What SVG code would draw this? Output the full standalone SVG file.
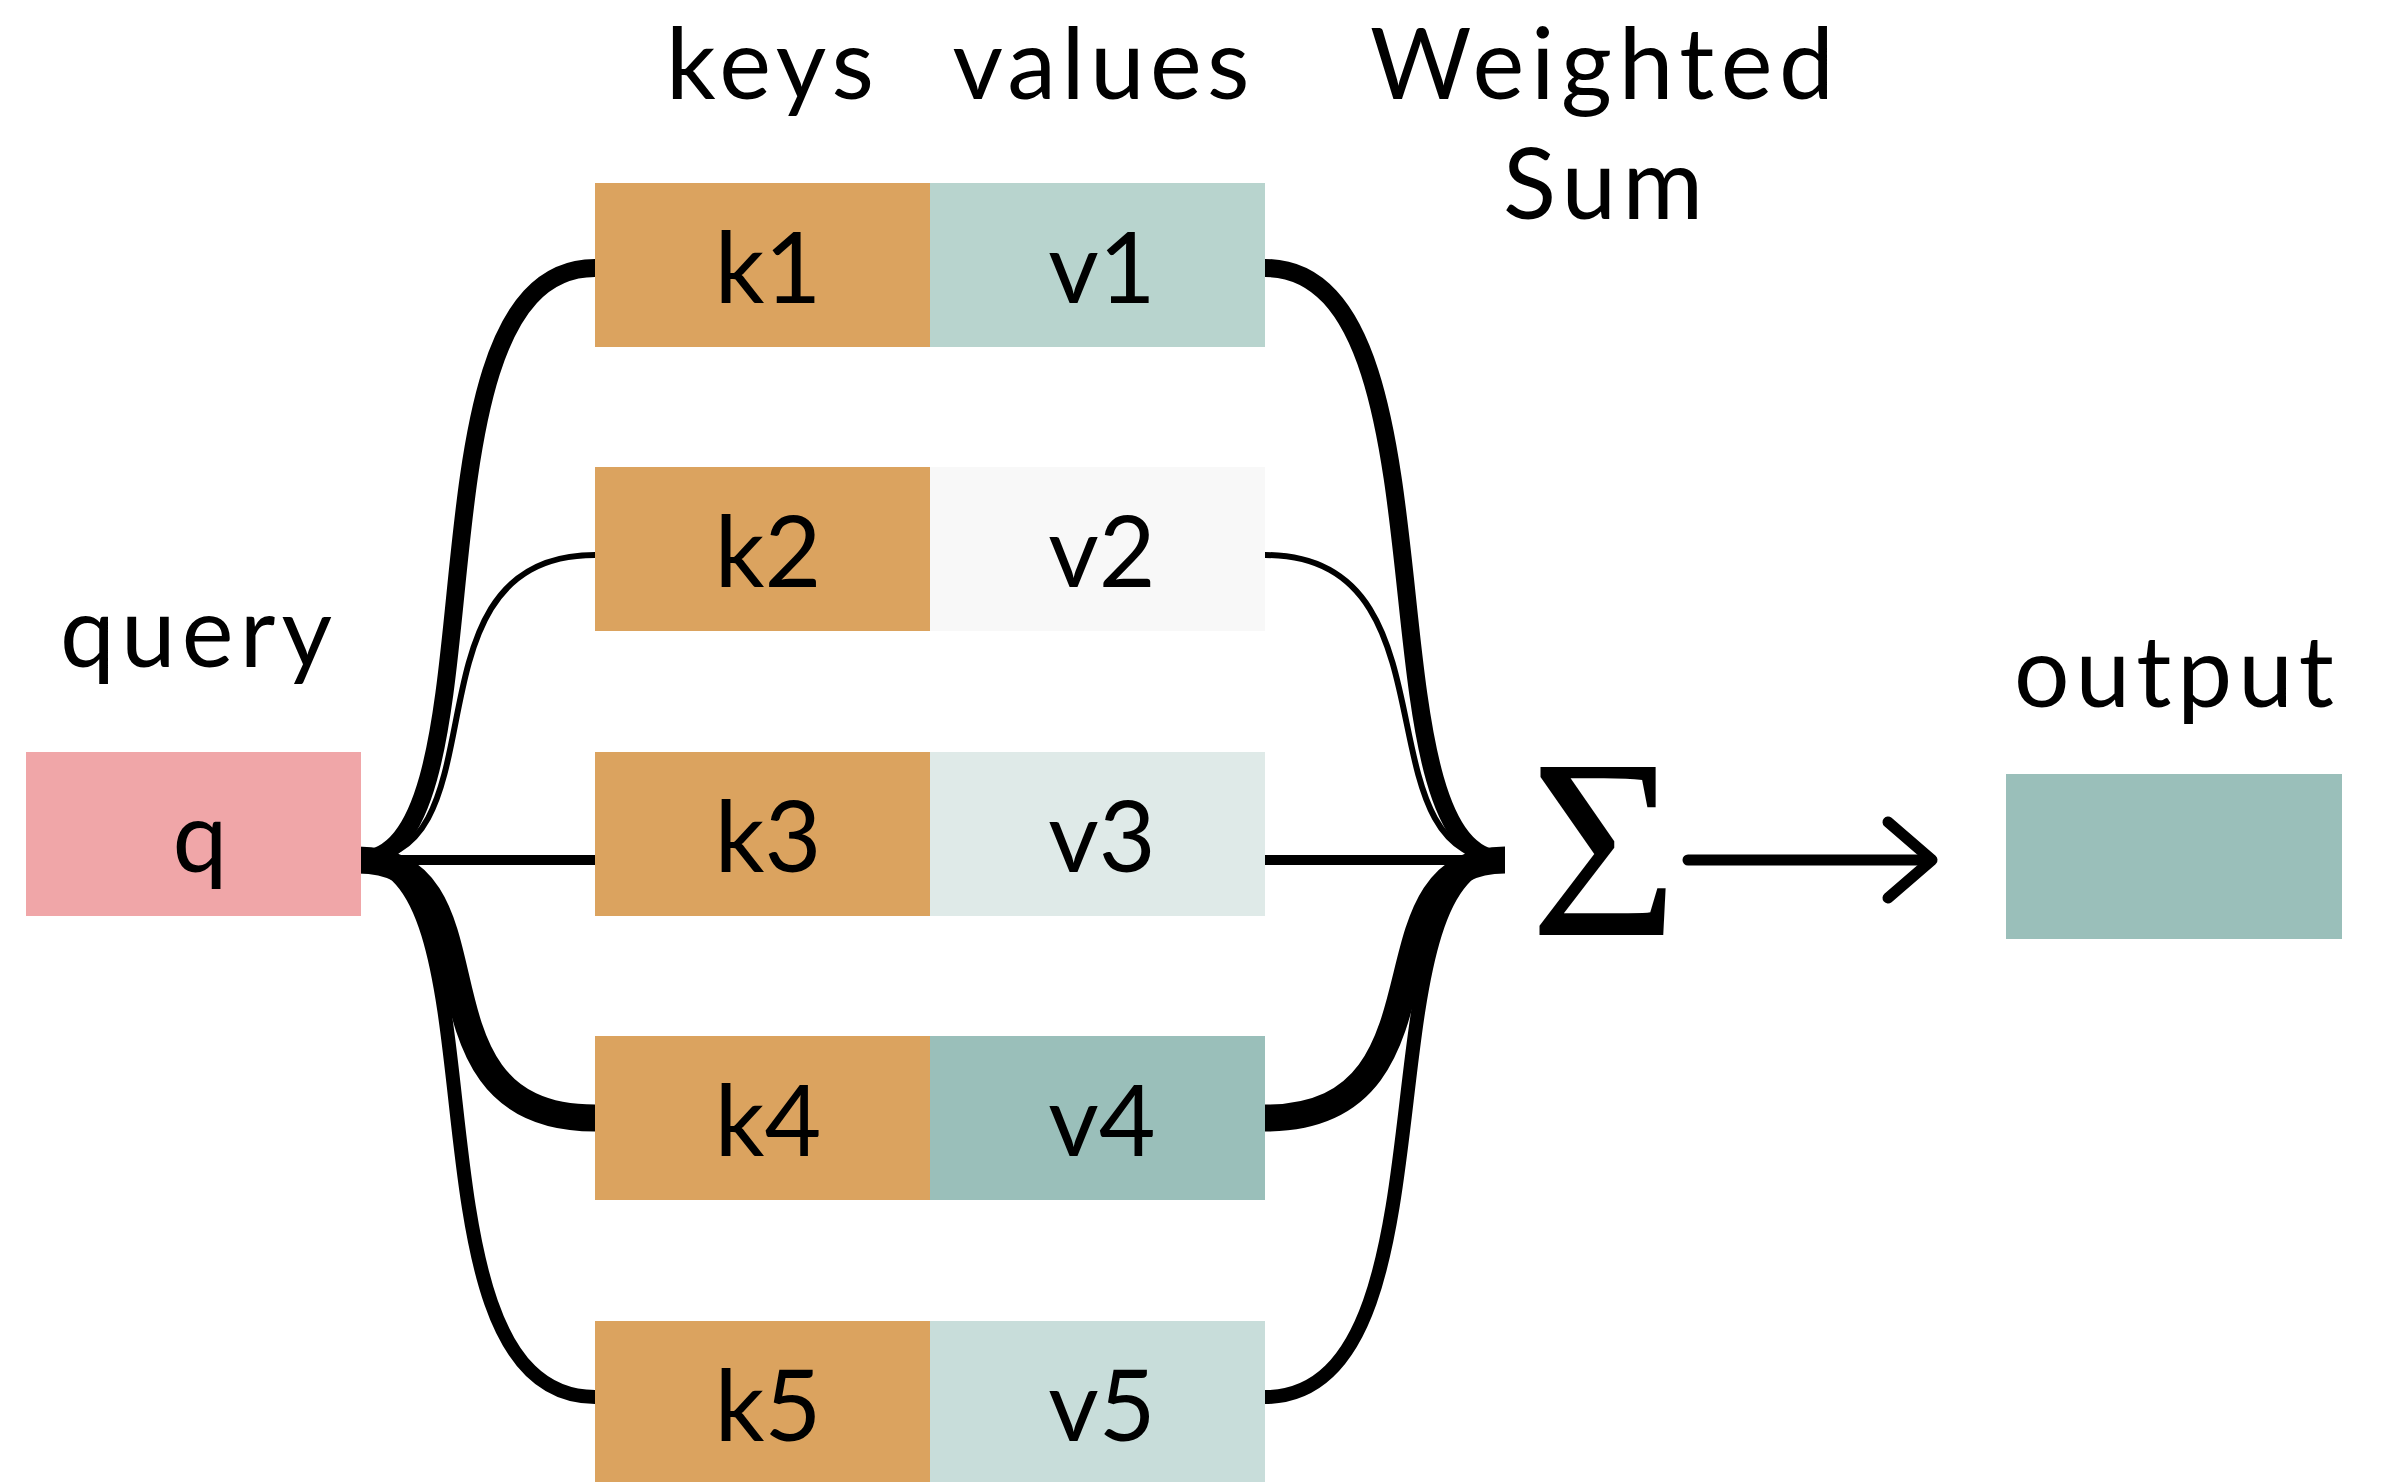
<svg xmlns="http://www.w3.org/2000/svg" width="2398" height="1482" viewBox="0 0 2398 1482">
<style>
.t{font-family:"Lato","DejaVu Sans",sans-serif;font-size:98px;fill:#000;text-anchor:middle}
.key{fill:#DBA35F}
.c{fill:none;stroke:#000;stroke-linecap:butt}
</style>
<rect width="2398" height="1482" fill="#fff"/>
<g id="headers">
<text class="t" x="770" y="99" textLength="208" lengthAdjust="spacing">keys</text>
<text class="t" x="1101" y="99" textLength="297" lengthAdjust="spacing">values</text>
<text class="t" x="1602" y="99" textLength="464" lengthAdjust="spacing">Weighted</text>
<text class="t" x="1603" y="219" textLength="200" lengthAdjust="spacing">Sum</text>
<text class="t" x="196" y="667" textLength="272" lengthAdjust="spacing">query</text>
<text class="t" x="2174" y="707" textLength="320" lengthAdjust="spacing">output</text>
</g>
<g id="connectors">
<path class="c" stroke-width="18" d="M358 860 C510 860 395 268 595 268"/>
<path class="c" stroke-width="6" d="M358 860 C510 860 395 555 595 555"/>
<path class="c" stroke-width="10" d="M358 860 H595"/>
<path class="c" stroke-width="27" d="M358 860 C510 860 395 1118 595 1118"/>
<path class="c" stroke-width="14" d="M358 860 C510 860 395 1397 595 1397"/>
<path class="c" stroke-width="18" d="M1265 268 C1465 268 1354 860 1505 860"/>
<path class="c" stroke-width="6" d="M1265 555 C1465 555 1354 860 1505 860"/>
<path class="c" stroke-width="10" d="M1265 860 H1505"/>
<path class="c" stroke-width="27" d="M1265 1118 C1465 1118 1354 860 1505 860"/>
<path class="c" stroke-width="14" d="M1265 1397 C1465 1397 1354 860 1505 860"/>
<g id="arrow" fill="none" stroke="#000" stroke-width="11" stroke-linecap="round" stroke-linejoin="round">
<path d="M1688 860 H1926"/>
<path d="M1888 822 L1932 860 L1888 898"/>
</g>
</g>
<g id="q"><rect x="26" y="752" width="335" height="164" fill="#F0A6A8"/><text class="t" x="200" y="872">q</text></g>
<g id="k1"><rect class="key" x="595" y="183" width="335" height="164"/><text class="t" x="768" y="303">k1</text></g>
<g id="k2"><rect class="key" x="595" y="467" width="335" height="164"/><text class="t" x="768" y="587">k2</text></g>
<g id="k3"><rect class="key" x="595" y="752" width="335" height="164"/><text class="t" x="768" y="872">k3</text></g>
<g id="k4"><rect class="key" x="595" y="1036" width="335" height="164"/><text class="t" x="768" y="1156">k4</text></g>
<g id="k5"><rect class="key" x="595" y="1321" width="335" height="164"/><text class="t" x="768" y="1441">k5</text></g>
<g id="v1"><rect x="930" y="183" width="335" height="164" fill="#B8D4CE"/><text class="t" x="1102" y="303">v1</text></g>
<g id="v2"><rect x="930" y="467" width="335" height="164" fill="#F8F8F8"/><text class="t" x="1102" y="587">v2</text></g>
<g id="v3"><rect x="930" y="752" width="335" height="164" fill="#DFEAE8"/><text class="t" x="1102" y="872">v3</text></g>
<g id="v4"><rect x="930" y="1036" width="335" height="164" fill="#9ABFBA"/><text class="t" x="1102" y="1156">v4</text></g>
<g id="v5"><rect x="930" y="1321" width="335" height="164" fill="#C8DDDA"/><text class="t" x="1102" y="1441">v5</text></g>
<g id="sum"><text x="1604" y="935" font-family="'Liberation Serif',serif" font-size="256" text-anchor="middle">Σ</text></g>
<g id="output"><rect x="2006" y="774" width="336" height="165" fill="#9ABFBA"/></g>
</svg>
